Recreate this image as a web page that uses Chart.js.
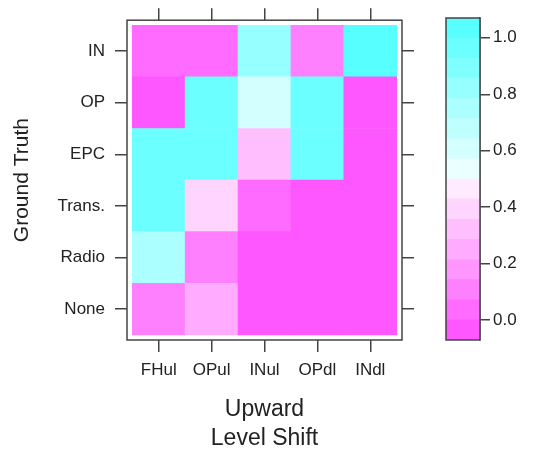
<!DOCTYPE html>
<html>
<head>
<meta charset="utf-8">
<script src="https://cdn.jsdelivr.net/npm/chart.js@4/dist/chart.umd.min.js"></script>
<style>
  html, body { margin: 0; padding: 0; background: #fff; }
  #wrap { position: relative; width: 535px; height: 450px; overflow: hidden; }
  #heat { position: absolute; left: 0; top: 0; }
  #key { position: absolute; left: 430px; top: 0; }
</style>
</head>
<body>
<div id="wrap">
  <canvas id="heat" width="430" height="453"></canvas>
  <canvas id="key" width="105" height="450"></canvas>
</div>
<script>
// 列（检测结果）和行（真实类别，从下到上）
const colLabels = ['FHul', 'OPul', 'INul', 'OPdl', 'INdl'];
const rowLabels = ['None', 'Radio', 'Trans.', 'EPC', 'OP', 'IN'];

// 每一行的数值，顺序同 colLabels
const valNone  = [0.12, 0.27, 0.00, 0.00, 0.00];
const valRadio = [0.75, 0.12, 0.00, 0.00, 0.00];
const valTrans = [0.95, 0.40, 0.05, 0.00, 0.00];
const valEPC   = [0.95, 0.95, 0.33, 0.95, 0.00];
const valOP    = [0.00, 0.95, 0.64, 0.95, 0.00];
const valIN    = [0.05, 0.05, 0.82, 0.12, 1.00];
const rowValues = [valNone, valRadio, valTrans, valEPC, valOP, valIN];

// 颜色分级的断点（16 个色带）和色标刻度
const levelBreaks = [-0.07, 0.00125, 0.0725, 0.14375, 0.215, 0.28625, 0.3575, 0.42875,
                     0.5, 0.57125, 0.6425, 0.71375, 0.785, 0.85625, 0.9275, 0.99875, 1.07];
const keyTicks = [0, 0.2, 0.4, 0.6, 0.8, 1.0];

// cm.colors 风格的调色板，从低（品红）到高（青色）
const palette = [
    '#ff57ff', '#ff6bff', '#ff80ff', '#ff96ff', '#ffabff', '#ffbfff', '#ffd4ff', '#ffeaff',
    '#eaffff', '#d4ffff', '#bfffff', '#abffff', '#96ffff', '#80ffff', '#6bffff', '#57ffff'
];

function levelColor(v) {
    for (let i = 0; i < palette.length; i++) {
        if (v <= levelBreaks[i + 1]) return palette[i];
    }
    return palette[palette.length - 1];
}

const textColor = '#222';
const lineColor = '#444';
const fontFamily = '"Liberation Sans", Arial, Helvetica, sans-serif';
Chart.defaults.color = textColor;
Chart.defaults.font.family = fontFamily;

function fixTicks(values) {
    return function (scale) {
        scale.ticks = values.map(v => ({ value: v }));
    };
}

const colPos = colLabels.map((c, i) => i + 1);
const rowPos = rowLabels.map((r, i) => i + 1);

// 每一行做成一个浮动柱数据集
const heatSets = rowValues.map((vals, r) => ({
    label: rowLabels[r],
    data: vals.map((v, c) => ({ x: colPos[c], y: [rowPos[r] - 0.5, rowPos[r] + 0.5], v: v })),
    backgroundColor: vals.map(v => levelColor(v)),
    borderWidth: 0,
    barPercentage: 1,
    categoryPercentage: 1,
    grouped: false
}));

// 刻度线放在数据之后画；轴线不用，外框由插件画
function tickGrid(len) {
    return { offset: false, drawOnChartArea: false, color: lineColor, lineWidth: 1.5,
             tickLength: len, tickWidth: 1.5, z: 1 };
}
const noBorder = { display: false };

const areaFrame = {
    id: 'areaFrame',
    afterDraw(chart) {
        const a = chart.chartArea;
        const ctx = chart.ctx;
        ctx.save();
        ctx.strokeStyle = lineColor;
        ctx.lineWidth = 1.5;
        ctx.strokeRect(a.left, a.top, a.right - a.left, a.bottom - a.top);
        ctx.restore();
    }
};

new Chart(document.getElementById('heat'), {
    type: 'bar',
    data: { datasets: heatSets },
    options: {
        responsive: false,
        animation: false,
        layout: { padding: 0 },
        plugins: { legend: { display: false }, tooltip: { enabled: false } },
        scales: {
            x: {
                type: 'linear', position: 'bottom', min: 0.4, max: 5.6, offset: false,
                afterBuildTicks: fixTicks(colPos),
                afterFit: s => { s.height = 113; },
                grid: tickGrid(12), border: noBorder,
                ticks: { font: { size: 17 }, padding: 8, maxRotation: 0, autoSkip: false,
                         callback: v => colLabels[v - 1] },
                title: { display: true, text: ['Upward', 'Level Shift'],
                         font: { size: 23, lineHeight: 1.26 }, padding: { top: 0, bottom: 0 } }
            },
            x2: {
                type: 'linear', position: 'top', min: 0.4, max: 5.6, offset: false,
                afterBuildTicks: fixTicks(colPos),
                afterFit: s => { s.height = 18; },
                grid: tickGrid(12), border: noBorder,
                ticks: { display: false }
            },
            y: {
                type: 'linear', position: 'left', min: 0.4, max: 6.6,
                afterBuildTicks: fixTicks(rowPos),
                afterFit: s => { s.width = 127; },
                grid: tickGrid(12), border: noBorder,
                ticks: { font: { size: 17 }, padding: 10, autoSkip: false,
                         callback: v => rowLabels[v - 1] },
                title: { display: true, text: 'Ground Truth',
                         font: { size: 21 }, padding: { top: 10, bottom: 0 } }
            },
            y2: {
                type: 'linear', position: 'right', min: 0.4, max: 6.6,
                afterBuildTicks: fixTicks(rowPos),
                afterFit: s => { s.width = 28; },
                grid: tickGrid(12), border: noBorder,
                ticks: { display: false }
            }
        }
    },
    plugins: [areaFrame]
});

// 色标：每个色带一个浮动柱
const keySets = palette.map((col, i) => ({
    data: [[levelBreaks[i], levelBreaks[i + 1]]],
    backgroundColor: col,
    borderWidth: 0,
    barPercentage: 1,
    categoryPercentage: 1,
    grouped: false
}));

new Chart(document.getElementById('key'), {
    type: 'bar',
    data: { labels: [''], datasets: keySets },
    options: {
        responsive: false,
        animation: false,
        layout: { padding: { left: 16, top: 18, bottom: 110, right: 0 } },
        plugins: { legend: { display: false }, tooltip: { enabled: false } },
        scales: {
            x: { display: false },
            y: {
                type: 'linear', position: 'right',
                min: levelBreaks[0], max: levelBreaks[levelBreaks.length - 1],
                afterBuildTicks: fixTicks(keyTicks),
                afterFit: s => { s.width = 55; },
                grid: { drawOnChartArea: false, color: lineColor, lineWidth: 1.5, tickLength: 10, tickWidth: 1.5 },
                border: { display: true, color: lineColor, width: 1.5 },
                ticks: { font: { size: 17 }, padding: 3, callback: v => v.toFixed(1) }
            }
        }
    },
    plugins: [areaFrame]
});
</script>
</body>
</html>
